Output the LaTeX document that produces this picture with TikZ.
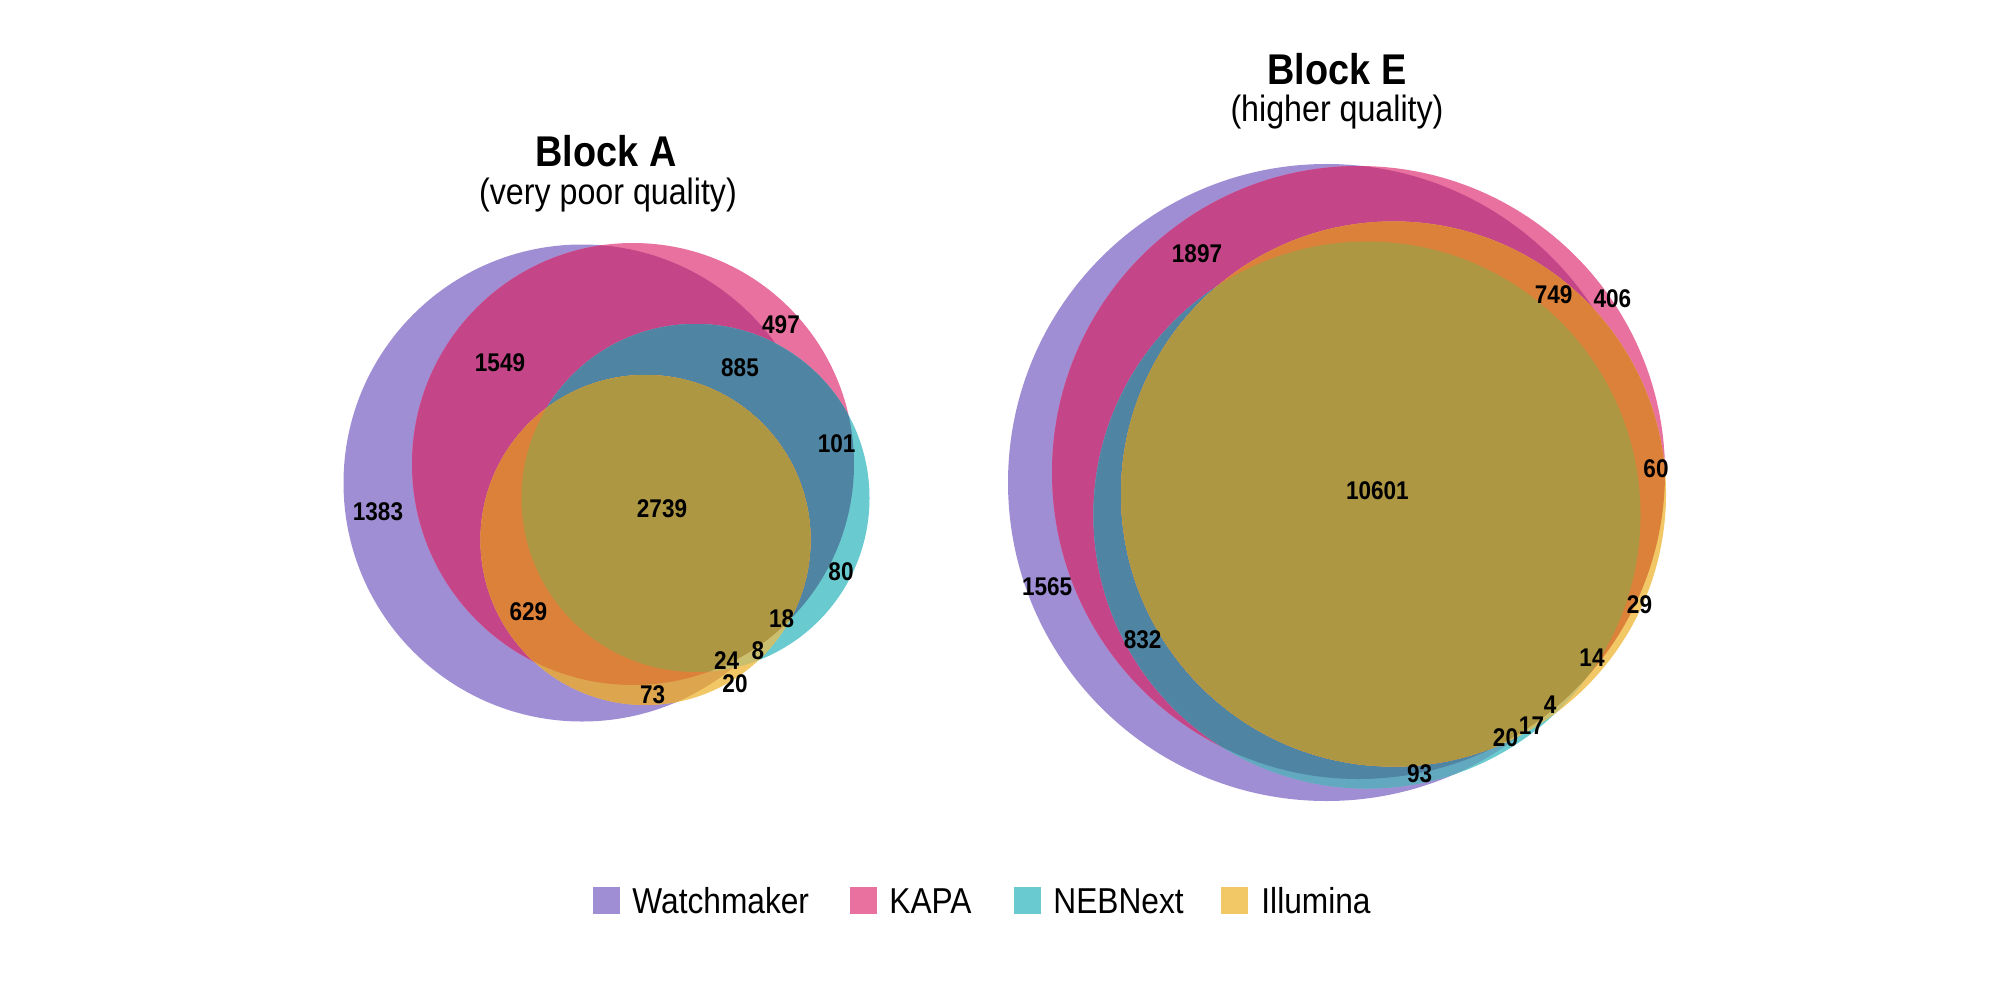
\documentclass[tikz,border=0pt]{standalone}
\usepackage{fontspec}
\setmainfont{Liberation Sans}[FakeStretch=0.88]
\definecolor{cP}{HTML}{9F8ED4}
\definecolor{cK}{HTML}{E9719F}
\definecolor{cT}{HTML}{69CBCF}
\definecolor{cY}{HTML}{F2C766}
\definecolor{cPK}{HTML}{C44689}
\definecolor{cTK}{HTML}{4F84A2}
\definecolor{cTP}{HTML}{62A8BE}
\definecolor{cYP}{HTML}{DDA54E}
\definecolor{cYT}{HTML}{C9BF6E}
\definecolor{cYK}{HTML}{DC8139}
\definecolor{cYTK}{HTML}{AD9742}
\newcommand\vennblock[4]{%
  \fill[cP] #1; \fill[cK] #2;
  \begin{scope}\clip #2; \fill[cPK] #1;\end{scope}
  \fill[cT] #3;
  \begin{scope}\clip #3; \fill[cTP] #1; \fill[cTK] #2;\end{scope}
  \fill[cY] #4;
  \begin{scope}\clip #4; \fill[cYP] #1; \fill[cYT] #3; \fill[cYK] #2;
    \begin{scope}\clip #2; \fill[cYTK] #3;\end{scope}\end{scope}}
\begin{document}
\begin{tikzpicture}[x=0.5pt,y=-0.5pt,
  lab/.style={font=\bfseries\fontsize{12.8}{13}\selectfont, inner sep=0pt, text=black},
  ttl/.style={font=\bfseries\fontsize{21.5}{22}\selectfont, inner sep=0pt, anchor=base},
  sub/.style={font=\fontsize{18.3}{19}\selectfont, inner sep=0pt, anchor=base},
  leg/.style={font=\fontsize{18}{18}\selectfont, inner sep=0pt, anchor=base west},
  sw/.style={minimum size=13.5pt, inner sep=0pt, draw=none}]
\useasboundingbox (0,0) rectangle (2000,1000);
\fill[white] (0,0) rectangle (2000,1000);
% Block A
\def\PA{(582,483) circle[radius=119.25pt]}
\def\KA{(633,464) circle[radius=110.5pt]}
\def\TA{(695.5,498) circle[radius=87pt]}
\def\YA{(645.5,540) circle[radius=82.5pt]}
\vennblock{\PA}{\KA}{\TA}{\YA}
% Block E
\def\PE{(1326.5,482.5) circle[radius=159.25pt]}
\def\KE{(1358.5,472.5) circle[radius=153.25pt]}
\def\TE{(1367,515) circle[radius=136.75pt]}
\def\YE{(1393.5,494) circle[radius=136.25pt]}
\vennblock{\PE}{\KE}{\TE}{\YE}
% titles
\node[ttl] (ta) at (606,166.7) {Block A};
\node[sub] (sa) at (608,205) {(very poor quality)};
\node[ttl] (te) at (1337,85) {Block E};
\node[sub] (se) at (1337,122) {(higher quality)};
% labels block A
\node[lab] (a1383) at (378,512) {1383};
\node[lab] (a1549) at (500,363) {1549};
\node[lab] (a497) at (781,325) {497};
\node[lab] (a885) at (740,367.5) {885};
\node[lab] (a101) at (836.7,443.3) {101};
\node[lab] (a80) at (841,571.7) {80};
\node[lab] (a18) at (781.7,618.3) {18};
\node[lab] (a8) at (758,651) {8};
\node[lab] (a24) at (726.7,661) {24};
\node[lab] (a20) at (735,683.3) {20};
\node[lab] (a73) at (652.7,694.3) {73};
\node[lab] (a629) at (528.3,611.7) {629};
\node[lab] (a2739) at (662,509) {2739};
% labels block E
\node[lab] (e1897) at (1197,253.7) {1897};
\node[lab] (e749) at (1553.6,294.5) {749};
\node[lab] (e406) at (1612.3,298.4) {406};
\node[lab] (e10601) at (1377.3,491) {10601};
\node[lab] (e60) at (1656,468.3) {60};
\node[lab] (e1565) at (1047.2,586.5) {1565};
\node[lab] (e832) at (1142.7,639.3) {832};
\node[lab] (e29) at (1639.5,604.3) {29};
\node[lab] (e14) at (1592,657.5) {14};
\node[lab] (e4) at (1550,704.5) {4};
\node[lab] (e17) at (1531.5,726) {17};
\node[lab] (e20) at (1505.5,737.3) {20};
\node[lab] (e93) at (1419.6,774) {93};
% legend
\node[sw, fill=cP] (lwP) at (606.6,900) {};
\node[leg] (ltP) at (632,913) {Watchmaker};
\node[sw, fill=cK] (lwK) at (863.6,900) {};
\node[leg] (ltK) at (889,913) {KAPA};
\node[sw, fill=cT] (lwT) at (1027,900) {};
\node[leg] (ltT) at (1053,913) {NEBNext};
\node[sw, fill=cY] (lwY) at (1234.5,900) {};
\node[leg] (ltY) at (1261,913) {Illumina};
\end{tikzpicture}
\end{document}
